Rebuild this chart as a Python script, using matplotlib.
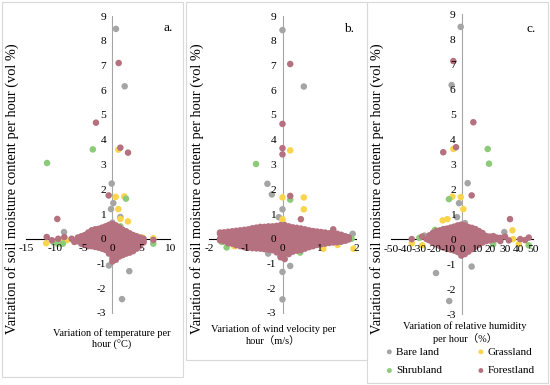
import matplotlib.pyplot as plt
from matplotlib.patches import Rectangle

plt.rcParams['font.family'] = ['Liberation Serif', 'Noto Sans CJK SC']
plt.rcParams['axes.unicode_minus'] = False

GRAY = '#A5A5A5'
YELLOW = '#F9D44C'
GREEN = '#8CCB79'
MAUVE = '#B5717F'

categories = ['Bare land', 'Grassland', 'Shrubland', 'Forestland']
colors = [GRAY, YELLOW, GREEN, MAUVE]

y_ticks = [-3, -2, -1, 0, 1, 2, 3, 4, 5, 6, 7, 8, 9]
xticks_a = [-15, -10, -5, 0, 5, 10]
xticks_b = [-2, -1, 0, 1, 2]
xticks_c = [-50, -40, -30, -20, -10, 0, 10, 20, 30, 40, 50]

ylabel = 'Variation of soil moisture content per hour (vol %)'
xlabel_a = 'Variation of temperature per\nhour (°C)'
xlabel_b = 'Variation of wind velocity per\nhour（m/s）'
xlabel_c = 'Variation of relative humidity\nper hour（%）'

# --- a. temperature ---
bare_a = [(0.62, 8.48), (2.13, 6.16), (-0.12, 2.23), (0.16, 1.44), (-0.24, 1.2),
          (1.38, 0.88), (0.0, 0.65), (-8.4, 0.27), (-0.6, -1.08), (2.93, -1.31),
          (1.67, -2.44)]
grass_a = [(1.03, 3.6), (0.57, 1.69), (2.07, 1.71), (1.03, 1.2), (1.38, 0.8),
           (2.7, 0.7), (-11.5, -0.18), (-9.0, -0.08), (-7.9, -0.06), (-6.8, -0.06),
           (5.2, 0.05), (7.1, 0.02)]
shrub_a = [(-3.4, 3.61), (-11.35, 3.06), (2.36, 1.62), (1.4, 0.5), (-10.3, -0.12),
           (-9.5, -0.2), (-8.6, -0.2), (5.1, -0.15), (7.1, -0.2)]
forest_a = [(1.09, 7.1), (-2.85, 4.69), (1.38, 3.68), (2.71, 3.48), (-0.65, 1.75),
            (-9.57, 0.8), (-11.4, 0.07), (-10.5, -0.06), (-9.4, 0.0), (-8.35, 0.07),
            (-7.07, 0.0), (-6.6, -0.13), (7.1, -0.05)]
# dense cluster around the origin, read column by column
forest_blob_a = [
    (-6.0, [-0.10, 0.00, 0.05]),
    (-5.4, [-0.20, -0.10, 0.10]),
    (-4.8, [-0.25, -0.20, 0.00, 0.15]),
    (-4.2, [-0.30, -0.10, 0.10, 0.25]),
    (-3.6, [-0.30, -0.20, 0.00, 0.20, 0.34]),
    (-3.0, [-0.33, -0.10, 0.10, 0.30, 0.38]),
    (-2.4, [-0.36, -0.20, 0.00, 0.20, 0.40]),
    (-1.8, [-0.40, -0.30, -0.10, 0.10, 0.30, 0.45]),
    (-1.2, [-0.45, -0.40, -0.20, 0.00, 0.20, 0.40, 0.50]),
    (-0.6, [-0.60, -0.50, -0.30, -0.10, 0.10, 0.30, 0.50, 0.56]),
    (0.0, [-0.92, -0.80, -0.60, -0.40, -0.20, 0.00, 0.20, 0.40, 0.60]),
    (0.6, [-0.85, -0.70, -0.50, -0.30, -0.10, 0.10, 0.30, 0.50, 0.54]),
    (1.2, [-0.72, -0.60, -0.40, -0.20, 0.00, 0.20, 0.40, 0.46]),
    (1.8, [-0.66, -0.50, -0.30, -0.10, 0.10, 0.30, 0.36]),
    (2.4, [-0.60, -0.40, -0.20, 0.00, 0.20, 0.30]),
    (3.0, [-0.56, -0.50, -0.30, -0.10, 0.10, 0.22]),
    (3.6, [-0.50, -0.40, -0.20, 0.00, 0.15]),
    (4.2, [-0.40, -0.30, -0.10, 0.10]),
    (4.8, [-0.28, -0.20, 0.00, 0.05]),
    (5.4, [-0.15, -0.10, 0.00]),
]

# --- b. wind velocity ---
bare_b = [(0.0, 8.43), (0.58, 6.15), (-0.41, 2.22), (-0.29, 1.79), (0.0, 1.19),
          (-0.1, 0.87), (0.0, -1.34), (0.21, -1.1), (0.0, -2.45), (-1.61, 0.2),
          (1.91, 0.2), (-0.39, -0.6)]
grass_b = [(0.21, 3.57), (0.0, 1.67), (0.58, 1.67), (0.58, 1.19), (0.0, 0.79),
           (0.0, 0.7), (-1.47, 0.14), (-1.31, -0.3), (1.11, -0.4), (1.5, -0.25),
           (1.93, -0.4)]
shrub_b = [(-0.72, 3.02), (0.21, 1.58), (0.0, 0.55), (-1.65, -0.13), (-1.52, -0.35),
           (0.48, -0.56), (1.47, -0.1), (1.88, 0.0)]
forest_b = [(0.21, 7.06), (0.0, 4.64), (0.0, 3.66), (0.0, 3.41), (0.21, 1.73),
            (0.5, 0.79), (1.38, 0.38), (1.79, 0.05)]
forest_blob_b = [
    (-1.70, [-0.06, 0.00, 0.20, 0.25]),
    (-1.59, [-0.10, 0.10, 0.26]),
    (-1.48, [-0.18, 0.00, 0.20, 0.28]),
    (-1.37, [-0.20, -0.10, 0.10, 0.30]),
    (-1.26, [-0.26, -0.20, 0.00, 0.20, 0.32]),
    (-1.15, [-0.30, -0.10, 0.10, 0.30, 0.34]),
    (-1.04, [-0.34, -0.20, 0.00, 0.20, 0.36]),
    (-0.93, [-0.36, -0.30, -0.10, 0.10, 0.30, 0.38]),
    (-0.82, [-0.38, -0.20, 0.00, 0.20, 0.40, 0.42]),
    (-0.71, [-0.39, -0.30, -0.10, 0.10, 0.30, 0.45]),
    (-0.60, [-0.40, -0.20, 0.00, 0.20, 0.40, 0.48]),
    (-0.49, [-0.42, -0.30, -0.10, 0.10, 0.30, 0.48]),
    (-0.38, [-0.44, -0.40, -0.20, 0.00, 0.20, 0.40, 0.50]),
    (-0.27, [-0.46, -0.30, -0.10, 0.10, 0.30, 0.50]),
    (-0.16, [-0.55, -0.40, -0.20, 0.00, 0.20, 0.40, 0.52]),
    (-0.05, [-0.75, -0.70, -0.50, -0.30, -0.10, 0.10, 0.30, 0.50, 0.55]),
    (0.06, [-0.82, -0.60, -0.40, -0.20, 0.00, 0.20, 0.40, 0.55]),
    (0.17, [-0.62, -0.50, -0.30, -0.10, 0.10, 0.30, 0.50]),
    (0.28, [-0.52, -0.40, -0.20, 0.00, 0.20, 0.40, 0.46]),
    (0.39, [-0.48, -0.30, -0.10, 0.10, 0.30, 0.44]),
    (0.50, [-0.46, -0.40, -0.20, 0.00, 0.20, 0.40, 0.41]),
    (0.61, [-0.40, -0.30, -0.10, 0.10, 0.30, 0.38]),
    (0.72, [-0.34, -0.20, 0.00, 0.20, 0.34]),
    (0.83, [-0.30, -0.10, 0.10, 0.30, 0.31]),
    (0.94, [-0.25, -0.20, 0.00, 0.20, 0.29]),
    (1.05, [-0.22, -0.10, 0.10, 0.27]),
    (1.16, [-0.20, 0.00, 0.20, 0.25]),
    (1.27, [-0.17, -0.10, 0.10, 0.22]),
    (1.38, [-0.15, 0.00, 0.20]),
    (1.49, [-0.14, -0.10, 0.10, 0.20]),
    (1.60, [-0.12, 0.00, 0.16]),
    (1.71, [-0.08, 0.10]),
    (1.80, [-0.03, 0.06]),
]

# --- c. relative humidity ---
bare_c = [(-0.9, 8.5), (-7.3, 6.17), (4.0, 2.24), (-2.1, 1.44), (-3.5, 0.88),
          (2.1, 0.64), (29.8, 0.28), (-26.5, 0.14), (6.8, -1.1), (-18.3, -1.36),
          (-9.0, -2.48)]
grass_c = [(-6.1, 3.61), (-0.9, 1.68), (-6.8, 1.7), (0.9, 1.2), (-13.6, 0.75),
           (-10.3, 0.8), (-35.4, -0.17), (-28.0, -0.25), (35.5, 0.35), (36.0, 0.0),
           (40.0, -0.2)]
shrub_c = [(18.1, 3.61), (19.0, 3.02), (-9.2, 1.6), (-13.2, 0.37), (-4.5, 0.47),
           (-19.0, 0.37), (47.0, -0.25), (22.0, -0.2), (-30.0, 0.05)]
forest_c = [(-6.1, 7.13), (8.0, 4.68), (-4.2, 3.68), (-13.2, 3.48), (6.8, 1.75),
            (33.8, 0.8), (-35.4, 0.0), (-28.0, 0.1), (-24.9, 0.0), (30.3, 0.1),
            (33.0, -0.05), (41.0, 0.0), (44.4, -0.04), (47.0, 0.06)]
forest_blob_c = [
    (-23.0, [-0.05, 0.00, 0.15]),
    (-20.5, [-0.15, -0.10, 0.10, 0.25]),
    (-18.0, [-0.20, 0.00, 0.20, 0.32]),
    (-15.5, [-0.28, -0.10, 0.10, 0.30, 0.35]),
    (-13.0, [-0.34, -0.20, 0.00, 0.20, 0.40]),
    (-10.5, [-0.38, -0.30, -0.10, 0.10, 0.30, 0.42]),
    (-8.0, [-0.42, -0.20, 0.00, 0.20, 0.40, 0.46]),
    (-5.5, [-0.46, -0.30, -0.10, 0.10, 0.30, 0.50]),
    (-3.0, [-0.52, -0.40, -0.20, 0.00, 0.20, 0.40, 0.55]),
    (-0.5, [-0.66, -0.50, -0.30, -0.10, 0.10, 0.30, 0.50, 0.58]),
    (2.0, [-0.60, -0.40, -0.20, 0.00, 0.20, 0.40, 0.55]),
    (4.5, [-0.50, -0.30, -0.10, 0.10, 0.30, 0.48]),
    (7.0, [-0.40, -0.20, 0.00, 0.20, 0.40, 0.45]),
    (9.5, [-0.30, -0.10, 0.10, 0.30, 0.40]),
    (12.0, [-0.22, -0.20, 0.00, 0.20, 0.32]),
    (14.5, [-0.14, -0.10, 0.10, 0.24]),
    (17.0, [-0.08, 0.00, 0.12]),
    (19.5, [-0.05, 0.10]),
    (22.0, [-0.02, 0.12]),
    (24.5, [0.00, 0.06]),
    (27.0, [-0.08, 0.05]),
]


def unpack_blob(blob):
    pts = []
    for x, ys in blob:
        for y in ys:
            pts.append((x, y))
    return pts


def style_axes(ax, xlim, xticks):
    ax.set_xlim(*xlim)
    ax.set_ylim(-3, 9)
    ax.patch.set_visible(False)
    ax.spines['left'].set_position(('data', 0))
    ax.spines['bottom'].set_position(('data', 0))
    ax.spines['left'].set_color('#A6A6A6')
    ax.spines['bottom'].set_color('black')
    for s in ['left', 'bottom']:
        ax.spines[s].set_linewidth(0.8)
        ax.spines[s].set_zorder(0.5)
    ax.spines['right'].set_visible(False)
    ax.spines['top'].set_visible(False)
    ax.set_xticks(xticks)
    ax.set_yticks(y_ticks)
    ax.tick_params(axis='x', length=0, pad=4.0, labelsize=8.2)
    ax.tick_params(axis='y', length=0, pad=4.5, labelsize=8.2)


def draw_panel(ax, series):
    handles = []
    for pts, color, name in zip(series, colors, categories):
        xs = [p[0] for p in pts]
        ys = [p[1] for p in pts]
        h = ax.scatter(xs, ys, s=22, color=color, edgecolors='none',
                       label=name, zorder=1)
        handles.append(h)
    return handles


fig = plt.figure(figsize=(5.5, 3.85), dpi=100)
W, H = 550.0, 385.0

# light panel frames
for x0, x1, y1 in [(1.5, 182.5, 377), (186, 366.5, 360), (366.5, 547.5, 383)]:
    fig.add_artist(Rectangle((x0 / W, 1 - y1 / H), (x1 - x0) / W, (y1 - 1.5) / H,
                             transform=fig.transFigure, fill=False,
                             edgecolor='#D9D9D9', linewidth=0.8))

ax_a = fig.add_axes([26 / W, 1 - 313 / H, 144 / W, 297 / H])
ax_b = fig.add_axes([209 / W, 1 - 313 / H, 147 / W, 297 / H])
ax_c = fig.add_axes([391 / W, 1 - 314 / H, 142 / W, 299.6 / H])

style_axes(ax_a, (-15, 10), xticks_a)
style_axes(ax_b, (-2, 2), xticks_b)
style_axes(ax_c, (-50, 50), xticks_c)

draw_panel(ax_a, [bare_a, grass_a, shrub_a, forest_a + unpack_blob(forest_blob_a)])
draw_panel(ax_b, [bare_b, grass_b, shrub_b, forest_b + unpack_blob(forest_blob_b)])
handles = draw_panel(ax_c, [bare_c, grass_c, shrub_c, forest_c + unpack_blob(forest_blob_c)])

# y labels, x labels and panel letters
for xpix in [12.5, 197.5, 377.5]:
    fig.text(xpix / W, 1 - 189 / H, ylabel, rotation=90, ha='center', va='center',
             fontsize=10.4)
for xpix, ypix, txt in [(112, 339, xlabel_a), (273, 335, xlabel_b), (465, 333, xlabel_c)]:
    fig.text(xpix / W, 1 - ypix / H, txt, ha='center', va='center', fontsize=7.5,
             linespacing=1.25)
for xpix, ypix, txt in [(168, 28, 'a.'), (349, 29, 'b.'), (531, 29, 'c.')]:
    fig.text(xpix / W, 1 - ypix / H, txt, ha='center', va='center', fontsize=9.5)

# legend reads row-wise: Bare land, Grassland / Shrubland, Forestland
order = [0, 2, 1, 3]
fig.legend(handles=[handles[i] for i in order], loc='upper left',
           bbox_to_anchor=(386 / W, 1 - 347 / H), ncol=2, frameon=False,
           fontsize=8, markerscale=0.75, handlelength=0.6, handletextpad=0.3,
           columnspacing=3.2, labelspacing=0.8, borderpad=0, borderaxespad=0)

fig.savefig('out.png', dpi=100)
